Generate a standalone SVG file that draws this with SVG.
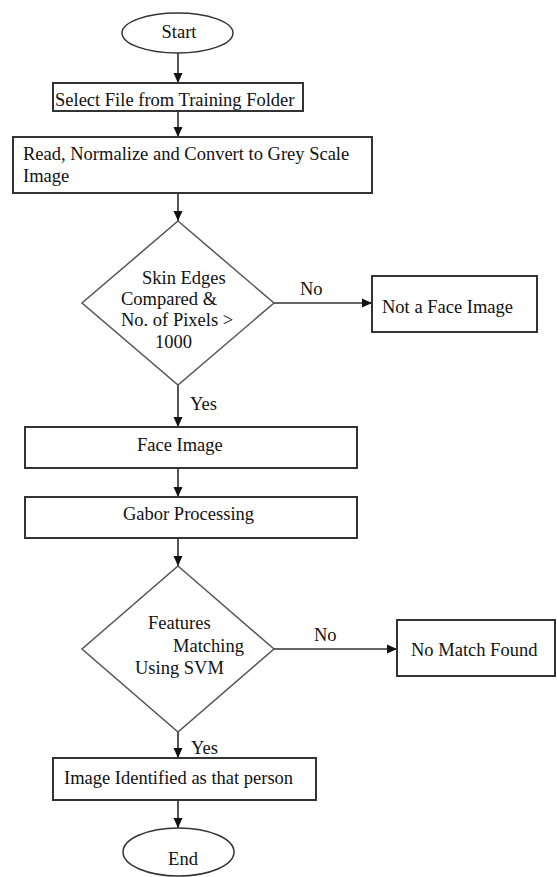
<svg xmlns="http://www.w3.org/2000/svg" width="557" height="877" viewBox="0 0 557 877">
<style>
.box{fill:#fff;stroke:#333;stroke-width:2}
.dia{fill:#fff;stroke:#555;stroke-width:1.5}
.term{fill:#fff;stroke:#333;stroke-width:1.5}
.t{font-family:"Liberation Serif","Times New Roman",serif;font-size:18.5px;fill:#111}
.c{text-anchor:middle}
.v{stroke:#555;stroke-width:2;fill:none}
.h{stroke:#333;stroke-width:1.5;fill:none}
</style>
<defs>
<marker id="ah" markerUnits="userSpaceOnUse" markerWidth="10" markerHeight="10" viewBox="0 0 10 10" refX="10" refY="5" orient="auto">
<path d="M0,0.5 L10,5 L0,9.5 z" fill="#111"/>
</marker>
</defs>
<rect width="557" height="877" fill="#fff"/>
<g id="connectors">
<line class="v" x1="178" y1="53" x2="178" y2="83" marker-end="url(#ah)"/>
<line class="v" x1="178" y1="111" x2="178" y2="137" marker-end="url(#ah)"/>
<line class="v" x1="178" y1="193" x2="178" y2="221" marker-end="url(#ah)"/>
<line class="h" x1="274" y1="303" x2="372" y2="303" marker-end="url(#ah)"/>
<line class="v" x1="178" y1="385" x2="178" y2="427" marker-end="url(#ah)"/>
<line class="v" x1="178" y1="468" x2="178" y2="497" marker-end="url(#ah)"/>
<line class="v" x1="178" y1="538" x2="178" y2="566" marker-end="url(#ah)"/>
<line class="h" x1="274" y1="649" x2="397" y2="649" marker-end="url(#ah)"/>
<line class="v" x1="178" y1="732" x2="178" y2="758" marker-end="url(#ah)"/>
<line class="v" x1="178" y1="800" x2="178" y2="828" marker-end="url(#ah)"/>
<text class="t" x="300" y="295">No</text>
<text class="t" x="190" y="410">Yes</text>
<text class="t" x="314" y="641">No</text>
<text class="t" x="191" y="754">Yes</text>
</g>
<g id="start">
<ellipse class="term" cx="177.5" cy="33" rx="55.5" ry="20"/>
<text class="t c" x="179" y="38">Start</text>
</g>
<g id="select">
<rect class="box" x="53" y="83" width="250" height="28"/>
<text class="t" x="55" y="106">Select File from Training Folder</text>
</g>
<g id="read">
<rect class="box" x="13" y="137" width="359" height="56"/>
<text class="t" x="23" y="160">Read, Normalize and Convert to Grey Scale</text>
<text class="t" x="23" y="182">Image</text>
</g>
<g id="decision1">
<polygon class="dia" points="178,221 274,303 178,385 82,303"/>
<text class="t" x="142" y="284">Skin Edges</text>
<text class="t" x="121" y="305">Compared &amp;</text>
<text class="t" x="121" y="326">No. of Pixels &gt;</text>
<text class="t" x="155" y="348">1000</text>
</g>
<g id="notface">
<rect class="box" x="372" y="276" width="165" height="56"/>
<text class="t" x="382" y="313">Not a Face Image</text>
</g>
<g id="face">
<rect class="box" x="25" y="427" width="332" height="41"/>
<text class="t" x="137" y="451">Face Image</text>
</g>
<g id="gabor">
<rect class="box" x="25" y="497" width="332" height="41"/>
<text class="t" x="123" y="520">Gabor Processing</text>
</g>
<g id="decision2">
<polygon class="dia" points="178,566 274,649 178,732 82,649"/>
<text class="t" x="148" y="629">Features</text>
<text class="t" x="173" y="652">Matching</text>
<text class="t" x="135" y="674">Using SVM</text>
</g>
<g id="nomatch">
<rect class="box" x="397" y="620" width="158" height="56"/>
<text class="t" x="411" y="656">No Match Found</text>
</g>
<g id="identified">
<rect class="box" x="53" y="758" width="263" height="42"/>
<text class="t" x="64" y="784">Image Identified as that person</text>
</g>
<g id="end">
<ellipse class="term" cx="178.5" cy="852" rx="55.5" ry="24"/>
<text class="t c" x="183" y="865">End</text>
</g>
</svg>
